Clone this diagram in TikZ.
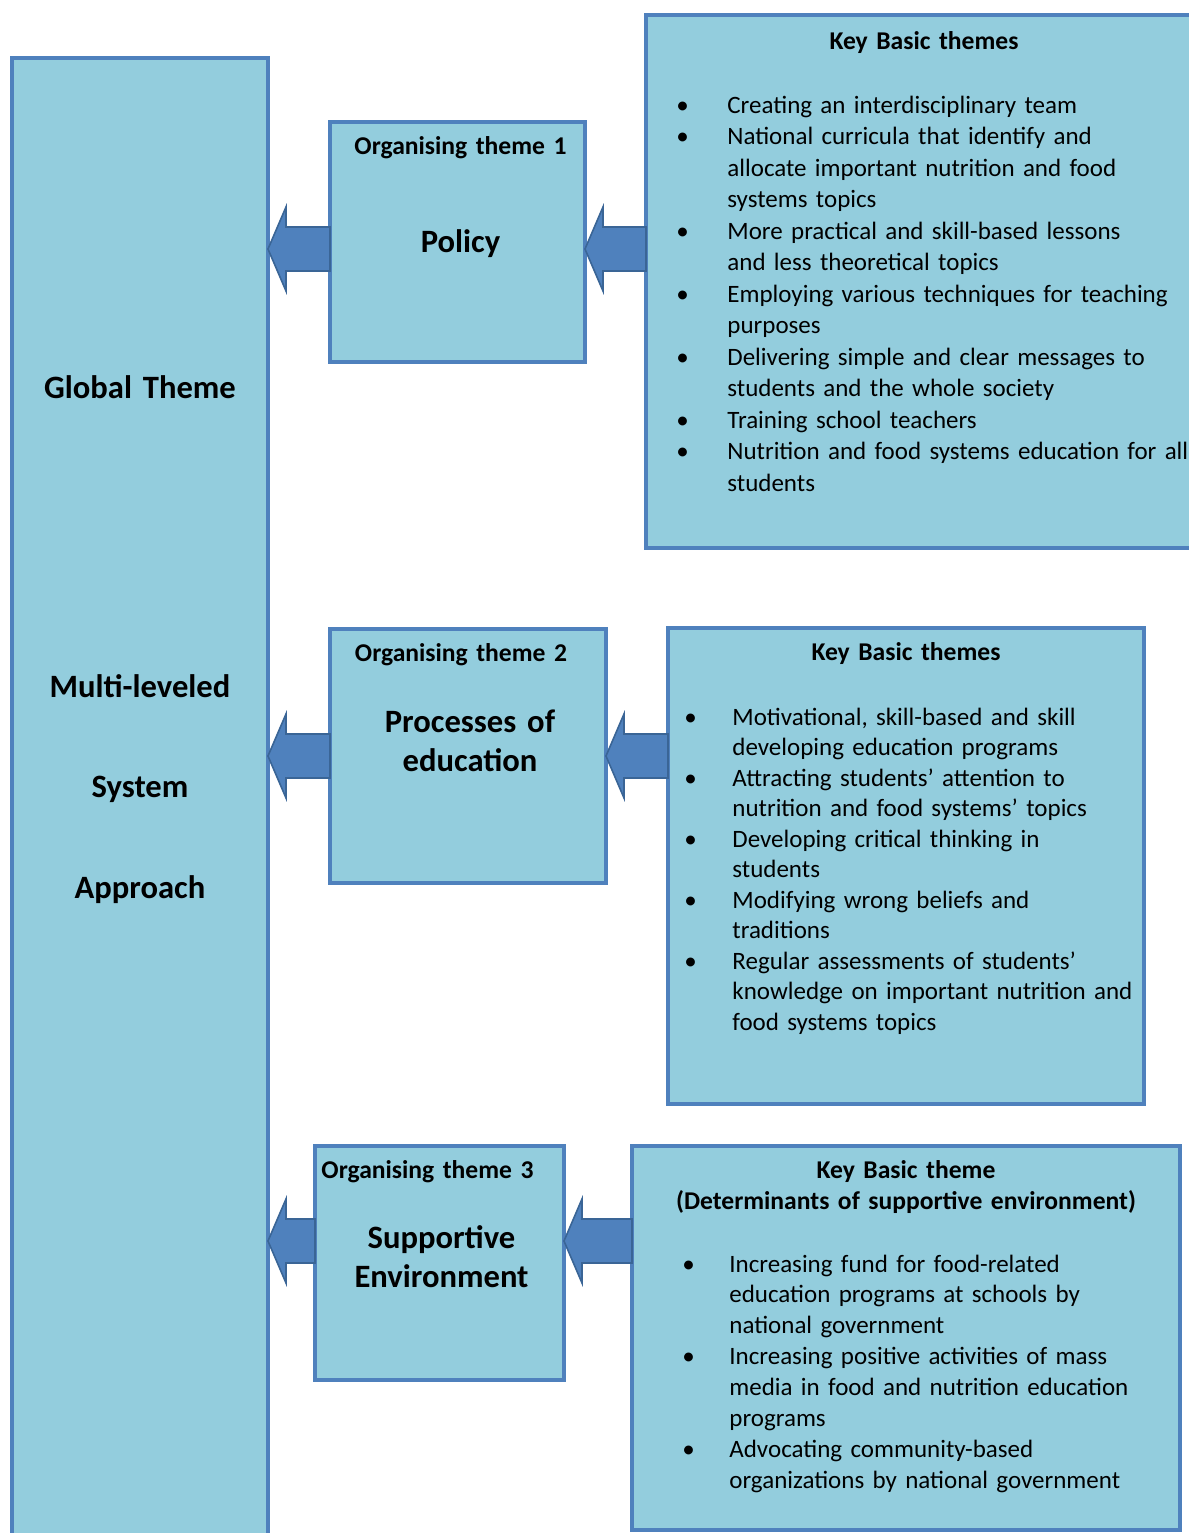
\documentclass[tikz,border=0pt]{standalone}
\usepackage{fontspec}
\setmainfont{Carlito}
\usetikzlibrary{positioning,calc}

\definecolor{boxfill}{HTML}{93CDDD}
\definecolor{boxline}{HTML}{4F81BD}
\definecolor{arrowfill}{HTML}{4F81BD}
\definecolor{arrowline}{HTML}{3A6596}

% one bullet point, hanging indent
\newlength{\bulletgap}
\newcommand{\bitem}[1]{{\let\\\newline\hangindent=\bulletgap\hangafter=1\noindent\makebox[\bulletgap][l]{\textbullet}#1\par}}

% block arrow: tip at #1, tail at #2
\newcommand{\blockarrow}[2]{%
  \filldraw[arrowshape] (#1) -- ($(#1)+(9pt,21pt)$) -- ($(#1)+(9pt,11pt)$)
    -- ($(#2)+(0pt,11pt)$) -- ($(#2)+(0pt,-11pt)$) -- ($(#1)+(9pt,-11pt)$)
    -- ($(#1)+(9pt,-21pt)$) -- cycle;}

\begin{document}
\begin{tikzpicture}[x=0.5pt,y=-0.5pt,
    box/.style={draw=boxline,fill=boxfill,line width=1.8pt,rectangle,anchor=north west,inner sep=0pt,outer sep=0pt},
    arrowshape/.style={fill=arrowfill,draw=arrowline,line width=0.8pt},
    head/.style={font=\bfseries\fontsize{12.8}{15.5}\selectfont,anchor=base,inner sep=0pt,text width=260pt,align=center},
    big/.style={font=\bfseries\fontsize{16.3}{19.5}\selectfont,anchor=base,inner sep=0pt,text width=150pt,align=center},
    points/.style={anchor=base west,inner sep=0pt,text width=290pt,align=left}]
    \useasboundingbox (0,0) rectangle (1189,1533);

    % boxes
    \node[box,minimum width=128pt,minimum height=750pt] (glob) at (12,58) {};
    \node[box,minimum width=127.5pt,minimum height=120pt] (org1) at (330,122) {};
    \node[box,minimum width=290pt,minimum height=266.5pt] (key1) at (646,15) {};
    \node[box,minimum width=138pt,minimum height=127pt] (org2) at (330,629) {};
    \node[box,minimum width=238pt,minimum height=238pt] (key2) at (668,628) {};
    \node[box,minimum width=124.5pt,minimum height=117pt] (org3) at (315,1146) {};
    \node[box,minimum width=274pt,minimum height=192pt] (key3) at (632,1146) {};

    % global theme
    \node[big] (gtheme) at (140,398) {Global Theme};
    \node[big] (multi) at (140,697) {Multi-leveled};
    \node[big] (system) at (140,797) {System};
    \node[big] (approach) at (140,898) {Approach};

    % organising themes
    \node[head] (o1head) at ($(org1.north)+(3,32)$) {Organising theme 1};
    \node[big] (policy) at ($(org1.north)+(3,130)$) {Policy};
    \node[head] (o2head) at ($(org2.north)+(-7,32)$) {Organising theme 2};
    \node[big] (process) at ($(org2.north)+(2,103)$) {Processes of\\education};
    \node[head] (o3head) at ($(org3.north)+(-12,32)$) {Organising theme 3};
    \node[big] (support) at ($(org3.north)+(2,102)$) {Supportive\\Environment};

    % key basic themes
    \node[head] (k1head) at ($(key1.north)+(-12,34)$) {Key Basic themes};
    \node[points,font=\fontsize{12.5}{15.75}\selectfont] (k1list) at (676,113) {%
      \setlength{\bulletgap}{25.5pt}%
      \bitem{Creating an interdisciplinary team}
      \bitem{National curricula that identify and\\allocate important nutrition and food\\systems topics}
      \bitem{More practical and skill-based lessons\\and less theoretical topics}
      \bitem{Employing various techniques for teaching\\purposes}
      \bitem{Delivering simple and clear messages to\\students and the whole society}
      \bitem{Training school teachers}
      \bitem{Nutrition and food systems education for all\\students}};

    \node[head] (k2head) at ($(key2.north)+(0,32)$) {Key Basic themes};
    \node[points,font=\fontsize{12.5}{15.25}\selectfont] (k2list) at (684,725) {%
      \setlength{\bulletgap}{24pt}%
      \bitem{Motivational, skill-based and skill\\developing education programs}
      \bitem{Attracting students’ attention to\\nutrition and food systems’ topics}
      \bitem{Developing critical thinking in\\students}
      \bitem{Modifying wrong beliefs and\\traditions}
      \bitem{Regular assessments of students’\\knowledge on important nutrition and\\food systems topics}};

    \node[head] (k3head) at ($(key3.north)+(0,32)$) {Key Basic theme\\(Determinants of supportive environment)};
    \node[points,font=\fontsize{12.5}{15.45}\selectfont] (k3list) at (682,1272) {%
      \setlength{\bulletgap}{23.5pt}%
      \bitem{Increasing fund for food-related\\education programs at schools by\\national government}
      \bitem{Increasing positive activities of mass\\media in food and nutrition education\\programs}
      \bitem{Advocating community-based\\organizations by national government}};

    % arrows
    \coordinate (r1) at (0,249);
    \coordinate (r2) at (0,756);
    \coordinate (r3) at (0,1241);
    \blockarrow{glob.east |- r1}{org1.west |- r1}
    \blockarrow{org1.east |- r1}{key1.west |- r1}
    \blockarrow{glob.east |- r2}{org2.west |- r2}
    \blockarrow{org2.east |- r2}{key2.west |- r2}
    \blockarrow{glob.east |- r3}{org3.west |- r3}
    \blockarrow{org3.east |- r3}{key3.west |- r3}
\end{tikzpicture}
\end{document}
